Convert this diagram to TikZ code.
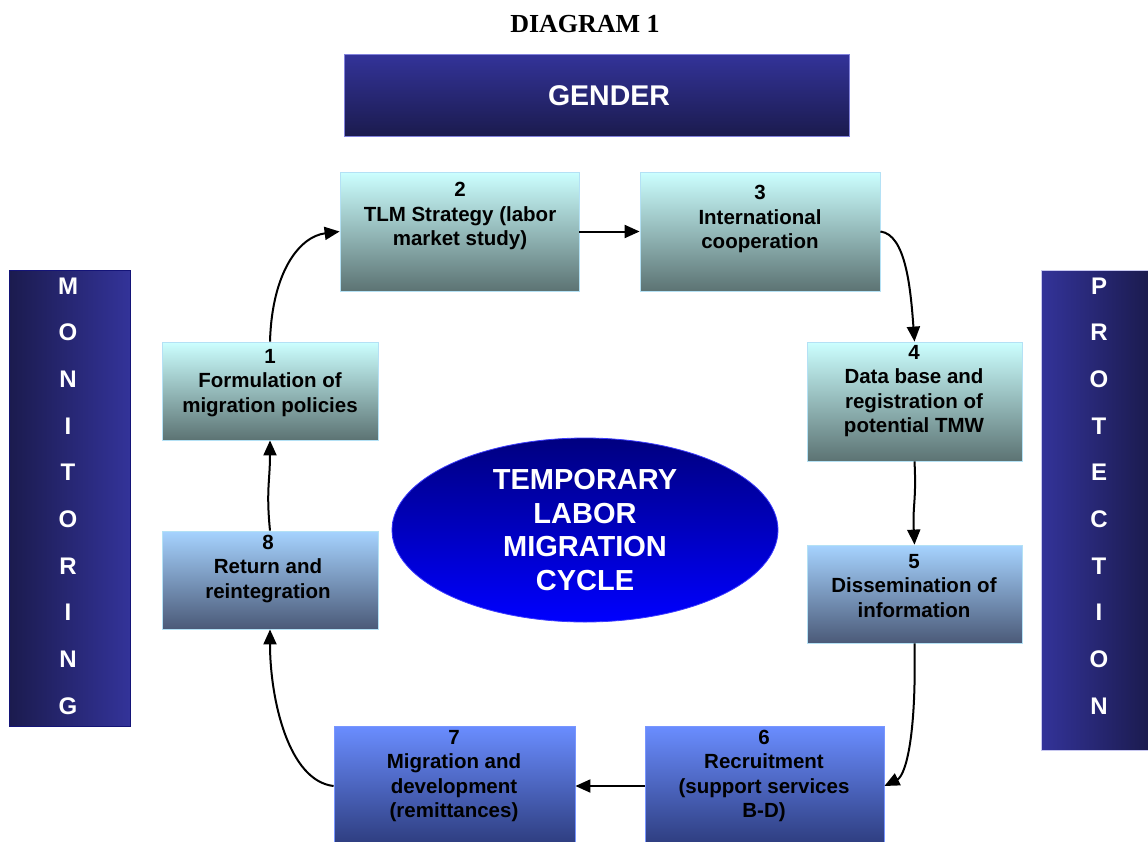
\documentclass[tikz,border=0pt]{standalone}
\usepackage{fontspec}
\setmainfont{Liberation Serif}
\newfontfamily\arial{Liberation Sans}
\usetikzlibrary{arrows.meta,shapes.geometric,calc}
\definecolor{tealtop}{RGB}{204,255,255}
\definecolor{tealbot}{RGB}{92,115,115}
\definecolor{lbtop}{RGB}{166,211,255}
\definecolor{lbbot}{RGB}{75,90,120}
\definecolor{mbtop}{RGB}{106,141,255}
\definecolor{mbbot}{RGB}{45,60,125}
\definecolor{navyA}{RGB}{51,51,153}
\definecolor{navyB}{RGB}{27,27,78}
\definecolor{ellTop}{RGB}{0,0,128}
\definecolor{ellBot}{RGB}{0,0,255}
\definecolor{boxedge}{RGB}{180,225,245}
\tikzset{
  boxbase/.style={rectangle, inner sep=0pt, draw=boxedge, line width=0.8pt},
  tealbox/.style={boxbase, top color=tealtop, bottom color=tealbot},
  lbbox/.style={boxbase, top color=lbtop, bottom color=lbbot},
  mbbox/.style={boxbase, top color=mbtop, bottom color=mbbot, draw={rgb,255:red,120;green,150;blue,255}},
  boxtext/.style={inner sep=0pt, align=center, text=black, font=\arial\bfseries\fontsize{20.5}{24.5}\selectfont},
  sidetext/.style={inner sep=0pt, align=center, text=white, font=\arial\bfseries\fontsize{24}{46.67}\selectfont},
  flow/.style={line width=2pt, -{Triangle[length=15pt,width=13pt]}}
}
\begin{document}
\begin{tikzpicture}[x=1pt,y=-1pt]
\useasboundingbox (0,0) rectangle (1148,841);
% title
\node[inner sep=0pt, font=\bfseries\fontsize{26}{30}\selectfont] (title) at (585,24) {DIAGRAM 1};
% gender
\node[rectangle, inner sep=0pt, minimum width=505pt, minimum height=82pt, top color=navyA, bottom color=navyB, draw={rgb,255:red,130;green,130;blue,220}, line width=0.8pt] (gender) at (596.5,95) {};
\node[inner sep=0pt, text=white, font=\arial\bfseries\fontsize{28.5}{32}\selectfont] (gendertext) at (609,96) {GENDER};
% monitoring
\node[rectangle, inner sep=0pt, minimum width=121pt, minimum height=456pt, left color=navyB, right color=navyA, draw={rgb,255:red,20;green,20;blue,120}, line width=0.8pt] (mon) at (69.5,498) {};
\node[sidetext] (montext) at (68,496) {M\\O\\N\\I\\T\\O\\R\\I\\N\\G};
% protection
\node[rectangle, inner sep=0pt, minimum width=109pt, minimum height=480pt, left color=navyA, right color=navyB, draw={rgb,255:red,200;green,200;blue,240}, line width=0.8pt] (prot) at (1095.5,510) {};
\node[sidetext] (prottext) at (1099,496) {P\\R\\O\\T\\E\\C\\T\\I\\O\\N};
% boxes
\node[tealbox, minimum width=239pt, minimum height=119pt] (b2) at (459.5,231.5) {};
\node[boxtext] (t2) at (460,216) {2\\TLM Strategy (labor\\market study)};
\node[tealbox, minimum width=240pt, minimum height=119pt] (b3) at (760,231.5) {};
\node[boxtext] (t3) at (760,219) {3\\International\\cooperation};
\node[tealbox, minimum width=216pt, minimum height=98pt] (b1) at (270,391) {};
\node[boxtext] (t1) at (270,383) {1\\Formulation of\\migration policies};
\node[tealbox, minimum width=215pt, minimum height=119pt] (b4) at (914.5,401.5) {};
\node[boxtext] (t4) at (914,391) {4\\Data base and\\registration of\\potential TMW};
\node[lbbox, minimum width=215pt, minimum height=98pt] (b5) at (914.5,594) {};
\node[boxtext] (t5) at (914,586) {5\\Dissemination of\\information};
\node[lbbox, minimum width=216pt, minimum height=98pt] (b8) at (270,580) {};
\node[boxtext] (t8) at (268,569) {8\\Return and\\reintegration};
\node[mbbox, minimum width=241pt, minimum height=120pt] (b7) at (454.5,786) {};
\node[boxtext] (t7) at (454,776) {7\\Migration and\\development\\(remittances)};
\node[mbbox, minimum width=239pt, minimum height=120pt] (b6) at (764.5,786) {};
\node[boxtext] (t6) at (764,776) {6\\Recruitment\\(support services\\B-D)};
% ellipse
\node[ellipse, inner sep=0pt, minimum width=386pt, minimum height=184pt, top color=ellTop, bottom color=ellBot, draw={rgb,255:red,60;green,60;blue,255}, line width=0.8pt] (ell) at (585,530) {};
\node[inner sep=0pt, align=center, text=white, font=\arial\bfseries\fontsize{29}{33.5}\selectfont] (elltext) at (585,530) {TEMPORARY\\LABOR\\MIGRATION\\CYCLE};
% connectors
\draw[flow] (b1.north) .. controls ($(b1.north)+(2,-70)$) and ($(b2.west)+(-40,5)$) .. (b2.west);
\draw[flow] (b2.east) -- (b3.west);
\draw[flow] (b3.east) .. controls ($(b3.east)+(25,3)$) and ($(b4.north)+(-4,-55)$) .. (b4.north);
\draw[flow] (b4.south) .. controls ($(b4.south)+(2,40)$) and ($(b5.north)+(-2,-40)$) .. (b5.north);
\draw[flow] (b5.south) .. controls ($(b5.south)+(2,100)$) and ($(b6.east)+(20,-10)$) .. (b6.east);
\draw[flow] (b6.west) -- (b7.east);
\draw[flow] (b7.west) .. controls ($(b7.west)+(-45,-5)$) and ($(b8.south)+(0,70)$) .. (b8.south);
\draw[flow] (b8.north) .. controls ($(b8.north)+(-4,-40)$) and ($(b1.south)+(0,40)$) .. (b1.south);
\end{tikzpicture}
\end{document}
